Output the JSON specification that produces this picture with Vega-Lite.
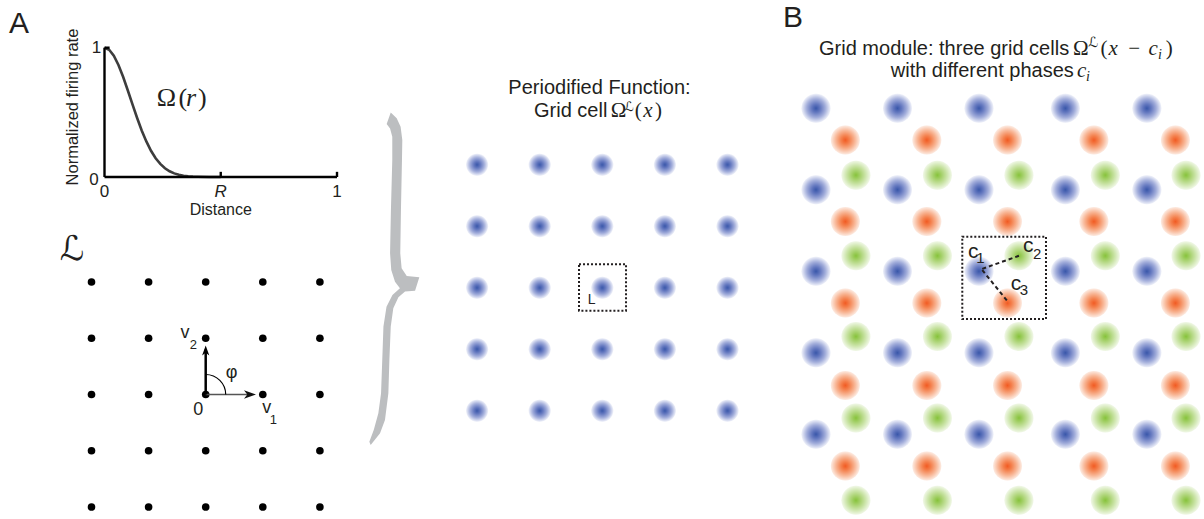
{
"$schema": "https://vega.github.io/schema/vega-lite/v6.json",
"width": 1204, "height": 519, "padding": 0,
"autosize": {"type": "fit", "contains": "padding"},
"background": "white",
"config": {"view": {"stroke": null}, "text": {"font": "Liberation Sans", "color": "#231f20"}},
"resolve": {"scale": {"x": "independent", "y": "independent"}},
"layer": [
{
 "encoding": {
  "x": {"field": "x", "type": "quantitative", "scale": {"domain": [-0.44946, 4.729], "nice": false, "zero": false}, "axis": null},
  "y": {"field": "y", "type": "quantitative", "scale": {"domain": [-2.645, 1.3689], "nice": false, "zero": false}, "axis": null}
 },
 "layer": [
  {"data": {"values": [{"x":0,"y":1},{"x":0.02,"y":0.984},{"x":0.04,"y":0.938},{"x":0.06,"y":0.866},{"x":0.08,"y":0.775},{"x":0.1,"y":0.671},{"x":0.12,"y":0.563},{"x":0.14,"y":0.458},{"x":0.16,"y":0.36},{"x":0.18,"y":0.275},{"x":0.2,"y":0.203},{"x":0.22,"y":0.145},{"x":0.24,"y":0.101},{"x":0.26,"y":0.068},{"x":0.28,"y":0.044},{"x":0.3,"y":0.028},{"x":0.32,"y":0.017},{"x":0.34,"y":0.01},{"x":0.36,"y":0.006},{"x":0.38,"y":0.003},{"x":0.4,"y":0.002},{"x":0.45,"y":0.0003},{"x":0.5,"y":0}]},
   "mark": {"type": "line", "color": "#3d3d3d", "strokeWidth": 2.6}},
  {"data": {"values": [{"x":0,"y":0,"x2":1,"y2":0},{"x":0,"y":0,"x2":0,"y2":1},{"x":0.5,"y":0,"x2":0.5,"y2":0.04},{"x":1,"y":0,"x2":1,"y2":0.04},{"x":0,"y":1,"x2":0.022,"y2":1}]},
   "mark": {"type": "rule", "color": "#000000", "strokeWidth": 2.4},
   "encoding": {"x2": {"field": "x2"}, "y2": {"field": "y2"}}},
  {"data": {"values": [{"x":0,"y":-0.116,"t":"0"},{"x":1,"y":-0.116,"t":"1"},{"x":-0.035,"y":1.0,"t":"1"},{"x":-0.045,"y":-0.02,"t":"0"}]},
   "mark": {"type": "text", "fontSize": 17, "align": "center", "baseline": "middle"},
   "encoding": {"text": {"field": "t", "type": "nominal"}}},
  {"data": {"values": [{"x":0.5,"y":-0.258,"t":"Distance"}]},
   "mark": {"type": "text", "fontSize": 16, "align": "center", "baseline": "middle"},
   "encoding": {"text": {"field": "t", "type": "nominal"}}},
  {"data": {"values": [{"x":0.5,"y":-0.116,"t":"R"}]},
   "mark": {"type": "text", "fontSize": 17, "fontStyle": "italic", "align": "center", "baseline": "middle"},
   "encoding": {"text": {"field": "t", "type": "nominal"}}},
  {"data": {"values": [{"x":-0.1355,"y":0.541,"t":"Normalized firing rate"}]},
   "mark": {"type": "text", "fontSize": 16.5, "angle": 270, "align": "center", "baseline": "middle"},
   "encoding": {"text": {"field": "t", "type": "nominal"}}},
  {"data": {"values": [{"x":-0.368,"y":1.183,"t":"A"}]},
   "mark": {"type": "text", "fontSize": 30, "align": "center", "baseline": "middle"},
   "encoding": {"text": {"field": "t", "type": "nominal"}}},
  {"data": {"values": [{"x":0.2245,"y":0.549,"t":"Ω"},{"x":0.318,"y":0.549,"t":"("},{"x":0.402,"y":0.549,"t":")"}]},
   "mark": {"type": "text", "font": "Liberation Serif", "fontSize": 26, "align": "left", "baseline": "alphabetic"},
   "encoding": {"text": {"field": "t", "type": "nominal"}}},
  {"data": {"values": [{"x":0.3505,"y":0.549,"t":"r"}]},
   "mark": {"type": "text", "font": "Liberation Serif", "fontStyle": "italic", "fontSize": 26, "align": "left", "baseline": "alphabetic"},
   "encoding": {"text": {"field": "t", "type": "nominal"}}}
 ]
},
{
 "encoding": {
  "x": {"field": "x", "type": "quantitative", "scale": {"domain": [-3.6025, 17.4833], "nice": false, "zero": false}, "axis": null},
  "y": {"field": "y", "type": "quantitative", "scale": {"domain": [-2.2133, 7.0133], "nice": false, "zero": false}, "axis": null}
 },
 "layer": [
  {"data": {"values": [{"x":-2,"y":-2},{"x":-1,"y":-2},{"x":0,"y":-2},{"x":1,"y":-2},{"x":2,"y":-2},{"x":-2,"y":-1},{"x":-1,"y":-1},{"x":0,"y":-1},{"x":1,"y":-1},{"x":2,"y":-1},{"x":-2,"y":0},{"x":-1,"y":0},{"x":0,"y":0},{"x":1,"y":0},{"x":2,"y":0},{"x":-2,"y":1},{"x":-1,"y":1},{"x":0,"y":1},{"x":1,"y":1},{"x":2,"y":1},{"x":-2,"y":2},{"x":-1,"y":2},{"x":0,"y":2},{"x":1,"y":2},{"x":2,"y":2}]},
   "mark": {"type": "point", "shape": "circle", "filled": true, "color": "#000000", "opacity": 1, "size": 58}},
  {"data": {"values": [{"x":0,"y":0,"x2":0.8,"y2":0}]},
   "mark": {"type": "rule", "color": "#555555", "strokeWidth": 1.5},
   "encoding": {"x2": {"field": "x2"}, "y2": {"field": "y2"}}},
  {"data": {"values": [{"x":0,"y":0,"x2":0,"y2":0.8}]},
   "mark": {"type": "rule", "color": "#000000", "strokeWidth": 2.5},
   "encoding": {"x2": {"field": "x2"}, "y2": {"field": "y2"}}},
  {"data": {"values": [{"x":0,"y":0}]},
   "mark": {"type": "point", "shape": "M1,0A1,1,0,0,0,0,-1", "filled": false, "stroke": "#000000", "strokeWidth": 1.2, "opacity": 1, "size": 1600}},
  {"data": {"values": [{"x":0.88,"y":0}]},
   "mark": {"type": "point", "shape": "M0,0L-1,-0.36L-0.72,0L-1,0.36Z", "filled": true, "color": "#111111", "opacity": 1, "size": 576}},
  {"data": {"values": [{"x":0,"y":0.87}]},
   "mark": {"type": "point", "shape": "M0,0L-0.36,1L0,0.72L0.36,1Z", "filled": true, "color": "#000000", "opacity": 1, "size": 400}},
  {"data": {"values": [{"x":-0.363,"y":1.093,"t":"v"},{"x":-0.13,"y":-0.276,"t":"0"},{"x":1.068,"y":-0.24,"t":"v"},{"x":0.455,"y":0.382,"t":"φ"}]},
   "mark": {"type": "text", "fontSize": 18, "align": "center", "baseline": "middle"},
   "encoding": {"text": {"field": "t", "type": "nominal"}}},
  {"data": {"values": [{"x":-0.217,"y":0.88,"t":"2"},{"x":1.184,"y":-0.453,"t":"1"}]},
   "mark": {"type": "text", "fontSize": 13, "align": "center", "baseline": "middle"},
   "encoding": {"text": {"field": "t", "type": "nominal"}}},
  {"data": {"values": [{"x":-2.342,"y":2.569,"t":"ℒ"}]},
   "mark": {"type": "text", "font": "DejaVu Sans", "fontSize": 34, "align": "center", "baseline": "middle"},
   "encoding": {"text": {"field": "t", "type": "nominal"}}}
 ]
},
{
 "encoding": {
  "x": {"field": "x", "type": "quantitative", "scale": {"domain": [-9.6214, 9.6118], "nice": false, "zero": false}, "axis": null},
  "y": {"field": "y", "type": "quantitative", "scale": {"domain": [-3.761, 4.678], "nice": false, "zero": false}, "axis": null}
 },
 "layer": [
  {"data": {"values": [{"x":-3.3115,"y":0.158}]},
   "mark": {"type": "point", "shape": "M-0.025,-0.973L0.010,-0.939L0.033,-0.890L0.043,-0.812L0.041,-0.694L0.035,-0.400L0.031,-0.145L0.039,-0.057L0.069,-0.012L0.143,-0.004L0.118,0.075L0.059,0.080L0.020,0.114L-0.010,0.178L-0.025,0.286L-0.033,0.482L-0.039,0.678L-0.059,0.835L-0.088,0.914L-0.143,0.982L-0.151,0.963L-0.125,0.894L-0.098,0.796L-0.082,0.678L-0.075,0.482L-0.068,0.286L-0.050,0.169L-0.015,0.100L0.029,0.061L0,0.022L-0.022,-0.047L-0.029,-0.145L-0.024,-0.400L-0.016,-0.694L-0.016,-0.831L-0.029,-0.880L-0.049,-0.906Z", "filled": true, "color": "#bcbec0", "opacity": 1, "size": 115600}},
  {"data": {"values": [{"x":-2,"y":-2},{"x":-1,"y":-2},{"x":0,"y":-2},{"x":1,"y":-2},{"x":2,"y":-2},{"x":-2,"y":-1},{"x":-1,"y":-1},{"x":0,"y":-1},{"x":1,"y":-1},{"x":2,"y":-1},{"x":-2,"y":0},{"x":-1,"y":0},{"x":0,"y":0},{"x":1,"y":0},{"x":2,"y":0},{"x":-2,"y":1},{"x":-1,"y":1},{"x":0,"y":1},{"x":1,"y":1},{"x":2,"y":1},{"x":-2,"y":2},{"x":-1,"y":2},{"x":0,"y":2},{"x":1,"y":2},{"x":2,"y":2}]},
   "mark": {"type": "point", "shape": "circle", "filled": true, "opacity": 1, "size": 484, "strokeWidth": 0,
    "fill": {"gradient": "radial", "x1": 0.5, "y1": 0.5, "r1": 0, "x2": 0.5, "y2": 0.5, "r2": 0.5,
     "stops": [{"offset": 0, "color": "#3856a9"}, {"offset": 0.3, "color": "#6579c0"}, {"offset": 0.65, "color": "#a3aedb"}, {"offset": 1, "color": "#f0f2fa"}]}}},
  {"data": {"values": [{"x":-0.372,"x2":0.379,"y":-0.374,"y2":0.38}]},
   "mark": {"type": "rect", "filled": false, "stroke": "#231f20", "strokeWidth": 2, "strokeDash": [2, 2]},
   "encoding": {"x2": {"field": "x2"}, "y2": {"field": "y2"}}},
  {"data": {"values": [{"x":-0.169,"y":-0.2,"t":"L"}]},
   "mark": {"type": "text", "fontSize": 14, "align": "center", "baseline": "middle"},
   "encoding": {"text": {"field": "t", "type": "nominal"}}},
  {"data": {"values": [{"x":-0.045,"y":3.155,"t":"Periodified Function:"}]},
   "mark": {"type": "text", "fontSize": 20, "align": "center", "baseline": "alphabetic"},
   "encoding": {"text": {"field": "t", "type": "nominal"}}},
  {"data": {"values": [{"x":-1.091,"y":2.78,"t":"Grid cell"}]},
   "mark": {"type": "text", "fontSize": 20, "align": "left", "baseline": "alphabetic"},
   "encoding": {"text": {"field": "t", "type": "nominal"}}},
  {"data": {"values": [{"x":0.134,"y":2.78,"t":"Ω"},{"x":0.52,"y":2.78,"t":"("},{"x":0.84,"y":2.78,"t":")"}]},
   "mark": {"type": "text", "font": "Liberation Serif", "fontSize": 21, "align": "left", "baseline": "alphabetic"},
   "encoding": {"text": {"field": "t", "type": "nominal"}}},
  {"data": {"values": [{"x":0.655,"y":2.78,"t":"x"}]},
   "mark": {"type": "text", "font": "Liberation Serif", "fontStyle": "italic", "fontSize": 21, "align": "left", "baseline": "alphabetic"},
   "encoding": {"text": {"field": "t", "type": "nominal"}}},
  {"data": {"values": [{"x":0.355,"y":2.875,"t":"ℒ"}]},
   "mark": {"type": "text", "font": "DejaVu Sans", "fontSize": 13, "align": "left", "baseline": "alphabetic"},
   "encoding": {"text": {"field": "t", "type": "nominal"}}}
 ]
},
{
 "encoding": {
  "x": {"field": "x", "type": "quantitative", "scale": {"domain": [-10.0123, 4.7607], "nice": false, "zero": false}, "axis": null},
  "y": {"field": "y", "type": "quantitative", "scale": {"domain": [-1.3288, 5.0393], "nice": false, "zero": false, "reverse": true}, "axis": null}
 },
 "layer": [
  {"data": {"values": [{"x":0,"y":0},{"x":1,"y":0},{"x":2,"y":0},{"x":3.06,"y":0},{"x":4.06,"y":0},{"x":0,"y":1},{"x":1,"y":1},{"x":2,"y":1},{"x":3.06,"y":1},{"x":4.06,"y":1},{"x":0,"y":2},{"x":1,"y":2},{"x":2,"y":2},{"x":3.06,"y":2},{"x":4.06,"y":2},{"x":0,"y":3},{"x":1,"y":3},{"x":2,"y":3},{"x":3.06,"y":3},{"x":4.06,"y":3},{"x":0,"y":4},{"x":1,"y":4},{"x":2,"y":4},{"x":3.06,"y":4},{"x":4.06,"y":4}]},
   "mark": {"type": "point", "shape": "circle", "filled": true, "opacity": 1, "size": 841, "strokeWidth": 0,
    "fill": {"gradient": "radial", "x1": 0.5, "y1": 0.5, "r1": 0, "x2": 0.5, "y2": 0.5, "r2": 0.5,
     "stops": [{"offset": 0, "color": "#3856a9"}, {"offset": 0.3, "color": "#6579c0"}, {"offset": 0.65, "color": "#a3aedb"}, {"offset": 1, "color": "#f0f2fa"}]}}},
  {"data": {"values": [{"x":0.36,"y":0.39},{"x":1.36,"y":0.39},{"x":2.35,"y":0.39},{"x":3.41,"y":0.39},{"x":4.41,"y":0.39},{"x":0.36,"y":1.39},{"x":1.36,"y":1.39},{"x":2.35,"y":1.39},{"x":3.41,"y":1.39},{"x":4.41,"y":1.39},{"x":0.36,"y":2.39},{"x":1.36,"y":2.39},{"x":2.35,"y":2.39},{"x":3.41,"y":2.39},{"x":4.41,"y":2.39},{"x":0.36,"y":3.4},{"x":1.36,"y":3.4},{"x":2.35,"y":3.4},{"x":3.41,"y":3.4},{"x":4.41,"y":3.4},{"x":0.36,"y":4.39},{"x":1.36,"y":4.39},{"x":2.35,"y":4.39},{"x":3.41,"y":4.39},{"x":4.41,"y":4.39}]},
   "mark": {"type": "point", "shape": "circle", "filled": true, "opacity": 1, "size": 841, "strokeWidth": 0,
    "fill": {"gradient": "radial", "x1": 0.5, "y1": 0.5, "r1": 0, "x2": 0.5, "y2": 0.5, "r2": 0.5,
     "stops": [{"offset": 0, "color": "#f15a22"}, {"offset": 0.3, "color": "#f4824f"}, {"offset": 0.65, "color": "#f8b594"}, {"offset": 1, "color": "#fdece3"}]}}},
  {"data": {"values": [{"x":0.49,"y":0.82},{"x":1.49,"y":0.82},{"x":2.49,"y":0.82},{"x":3.55,"y":0.82},{"x":4.54,"y":0.82},{"x":0.49,"y":1.81},{"x":1.49,"y":1.81},{"x":2.49,"y":1.81},{"x":3.55,"y":1.81},{"x":4.54,"y":1.81},{"x":0.49,"y":2.8},{"x":1.49,"y":2.8},{"x":2.49,"y":2.8},{"x":3.55,"y":2.8},{"x":4.54,"y":2.8},{"x":0.49,"y":3.8},{"x":1.49,"y":3.8},{"x":2.49,"y":3.8},{"x":3.55,"y":3.8},{"x":4.54,"y":3.8},{"x":0.49,"y":4.81},{"x":1.49,"y":4.81},{"x":2.49,"y":4.81},{"x":3.55,"y":4.81},{"x":4.54,"y":4.81}]},
   "mark": {"type": "point", "shape": "circle", "filled": true, "opacity": 1, "size": 841, "strokeWidth": 0,
    "fill": {"gradient": "radial", "x1": 0.5, "y1": 0.5, "r1": 0, "x2": 0.5, "y2": 0.5, "r2": 0.5,
     "stops": [{"offset": 0, "color": "#86c23a"}, {"offset": 0.3, "color": "#a6d16c"}, {"offset": 0.65, "color": "#cbe4a8"}, {"offset": 1, "color": "#f1f8e8"}]}}},
  {"data": {"values": [{"x":1.795,"x2":2.822,"y":1.575,"y2":2.585}]},
   "mark": {"type": "rect", "filled": false, "stroke": "#231f20", "strokeWidth": 2, "strokeDash": [2, 2]},
   "encoding": {"x2": {"field": "x2"}, "y2": {"field": "y2"}}},
  {"data": {"values": [{"x":2.04,"y":1.97,"x2":2.49,"y2":1.81},{"x":2.04,"y":1.985,"x2":2.36,"y2":2.38}]},
   "mark": {"type": "rule", "color": "#231f20", "strokeWidth": 2, "strokeDash": [4, 3]},
   "encoding": {"x2": {"field": "x2"}, "y2": {"field": "y2"}}},
  {"data": {"values": [{"x":1.93,"y":1.76,"t":"c"},{"x":2.605,"y":1.686,"t":"c"},{"x":2.454,"y":2.16,"t":"c"}]},
   "mark": {"type": "text", "fontSize": 21, "align": "center", "baseline": "middle"},
   "encoding": {"text": {"field": "t", "type": "nominal"}}},
  {"data": {"values": [{"x":2.018,"y":1.84,"t":"1"},{"x":2.714,"y":1.79,"t":"2"},{"x":2.55,"y":2.232,"t":"3"}]},
   "mark": {"type": "text", "fontSize": 15, "align": "center", "baseline": "middle"},
   "encoding": {"text": {"field": "t", "type": "nominal"}}},
  {"data": {"values": [{"x":-0.282,"y":-1.104,"t":"B"}]},
   "mark": {"type": "text", "fontSize": 30, "align": "center", "baseline": "middle"},
   "encoding": {"text": {"field": "t", "type": "nominal"}}},
  {"data": {"values": [{"x":0.037,"y":-0.654,"t":"Grid module: three grid cells"},{"x":0.917,"y":-0.388,"t":"with different phases"}]},
   "mark": {"type": "text", "fontSize": 20, "align": "left", "baseline": "alphabetic"},
   "encoding": {"text": {"field": "t", "type": "nominal"}}},
  {"data": {"values": [{"x":3.153,"y":-0.654,"t":"Ω"},{"x":3.49,"y":-0.654,"t":"("},{"x":3.83,"y":-0.654,"t":"−"},{"x":4.29,"y":-0.654,"t":")"}]},
   "mark": {"type": "text", "font": "Liberation Serif", "fontSize": 21, "align": "left", "baseline": "alphabetic"},
   "encoding": {"text": {"field": "t", "type": "nominal"}}},
  {"data": {"values": [{"x":3.59,"y":-0.654,"t":"x"},{"x":4.08,"y":-0.654,"t":"c"},{"x":3.202,"y":-0.388,"t":"c"}]},
   "mark": {"type": "text", "font": "Liberation Serif", "fontStyle": "italic", "fontSize": 21, "align": "left", "baseline": "alphabetic"},
   "encoding": {"text": {"field": "t", "type": "nominal"}}},
  {"data": {"values": [{"x":4.195,"y":-0.605,"t":"i"},{"x":3.313,"y":-0.341,"t":"i"}]},
   "mark": {"type": "text", "font": "Liberation Serif", "fontStyle": "italic", "fontSize": 14, "align": "left", "baseline": "alphabetic"},
   "encoding": {"text": {"field": "t", "type": "nominal"}}},
  {"data": {"values": [{"x":3.337,"y":-0.746,"t":"ℒ"}]},
   "mark": {"type": "text", "font": "DejaVu Sans", "fontSize": 14, "align": "left", "baseline": "alphabetic"},
   "encoding": {"text": {"field": "t", "type": "nominal"}}}
 ]
}
]
}
